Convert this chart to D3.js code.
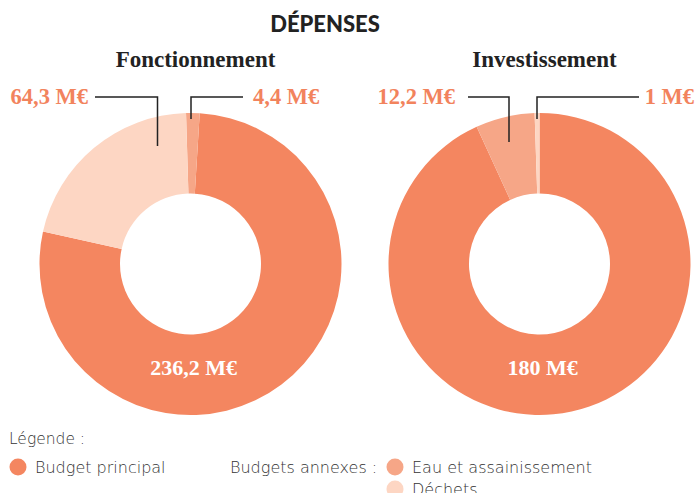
<!DOCTYPE html>
<html>
<head>
<meta charset="utf-8">
<script src="https://cdn.jsdelivr.net/npm/d3@7"></script>
<style>
  body { margin: 0; background: #fff; }
  .serif { font-family: "Liberation Serif", serif; font-weight: bold; }
  .sans { font-family: "Lato", "Noto Sans", sans-serif; }
  .legend-text { font-family: "DejaVu Sans", sans-serif; font-weight: 200; }
</style>
</head>
<body>
<div id="chart"></div>
<script>
// data (M€)
var categories = ["Budget principal", "Eau et assainissement", "Déchets"];
var fonctionnement = [236.2, 4.4, 64.3];
var investissement = [180, 12.2, 1];
var valueLabels = {
  fonctionnement: ["236,2 M€", "4,4 M€", "64,3 M€"],
  investissement: ["180 M€", "12,2 M€", "1 M€"]
};

var colors = ["#f48660", "#f6a687", "#fdd6c3"];
var labelColor = "#f2835d";

var svgWidth = 696, svgHeight = 493;
var outerR = 151, innerR = 70.5;

var svg = d3.select("#chart").append("svg")
  .attr("width", svgWidth)
  .attr("height", svgHeight);

svg.append("text")
  .attr("class", "sans")
  .attr("x", 325).attr("y", 32)
  .attr("text-anchor", "middle")
  .attr("font-size", 22).attr("font-weight", 900)
  .attr("fill", "#222")
  .text("DÉPENSES");

var color = d3.scaleOrdinal().domain(categories).range(colors);
var arc = d3.arc().innerRadius(innerR).outerRadius(outerR);

// one donut
function drawDonut(values, labels, title, cx, startDeg, callouts) {
  var g = svg.append("g").attr("transform", `translate(${cx}, 264)`);

  var pie = d3.pie()
    .value(d => d.value)
    .startAngle(startDeg * Math.PI / 180)
    .endAngle(startDeg * Math.PI / 180 + 2 * Math.PI);

  var data = categories.map((c, i) => ({ cat: c, value: values[i], label: labels[i] }));
  var arcs = pie(data);

  g.selectAll("path")
    .data(arcs)
    .enter()
    .append("path")
    .attr("d", arc)
    .attr("fill", d => color(d.data.cat));

  // title above
  svg.append("text")
    .attr("class", "serif")
    .attr("x", cx + 5).attr("y", 67)
    .attr("text-anchor", "middle")
    .attr("font-size", 23)
    .attr("fill", "#222")
    .text(title);

  // main value at bottom of ring
  g.append("text")
    .attr("class", "serif")
    .attr("x", 3).attr("y", 111)
    .attr("text-anchor", "middle")
    .attr("font-size", 22)
    .attr("fill", "#fff")
    .text(labels[0]);

  // callouts for the small slices
  callouts.forEach(function(c) {
    svg.append("polyline")
      .attr("points", `${c.lx},97 ${cx + c.dx},97 ${cx + c.dx},${c.bottom}`)
      .attr("fill", "none")
      .attr("stroke", "#222")
      .attr("stroke-width", 1.5);
    svg.append("text")
      .attr("class", "serif")
      .attr("x", c.tx).attr("y", 104)
      .attr("text-anchor", c.anchor)
      .attr("font-size", 22.5)
      .attr("fill", labelColor)
      .text(labels[c.idx]);
  });
}

drawDonut(fonctionnement, valueLabels.fonctionnement, "Fonctionnement", 190.5, 3.5, [
  { idx: 2, lx: 95, dx: -33, bottom: 146, tx: 88, anchor: "end" },
  { idx: 1, lx: 243, dx: 0.5, bottom: 119, tx: 253, anchor: "start" }
]);
drawDonut(investissement, valueLabels.investissement, "Investissement", 539.5, 0, [
  { idx: 1, lx: 468, dx: -30.5, bottom: 142, tx: 455, anchor: "end" },
  { idx: 2, lx: 639, dx: -2.5, bottom: 119, tx: 694, anchor: "end" }
]);

// legend
svg.append("text")
  .attr("class", "legend-text")
  .attr("x", 9).attr("y", 444)
  .attr("font-size", 15.5)
  .attr("fill", "#333")
  .text("Légende :");

var legendItems = [
  { cat: categories[0], x: 18, y: 467 },
  { cat: categories[1], x: 395, y: 467 },
  { cat: categories[2], x: 395, y: 489 }
];
var legend = svg.selectAll(".legend")
  .data(legendItems)
  .enter()
  .append("g")
  .attr("transform", d => `translate(${d.x}, ${d.y})`);
legend.append("circle")
  .attr("r", 8.5)
  .attr("fill", d => color(d.cat));
legend.append("text")
  .attr("class", "legend-text")
  .attr("x", 17).attr("y", 5.5)
  .attr("font-size", 16)
  .attr("fill", "#333")
  .text(d => d.cat);

svg.append("text")
  .attr("class", "legend-text")
  .attr("x", 230).attr("y", 472.5)
  .attr("font-size", 16)
  .attr("fill", "#333")
  .text("Budgets annexes :");
</script>
</body>
</html>
